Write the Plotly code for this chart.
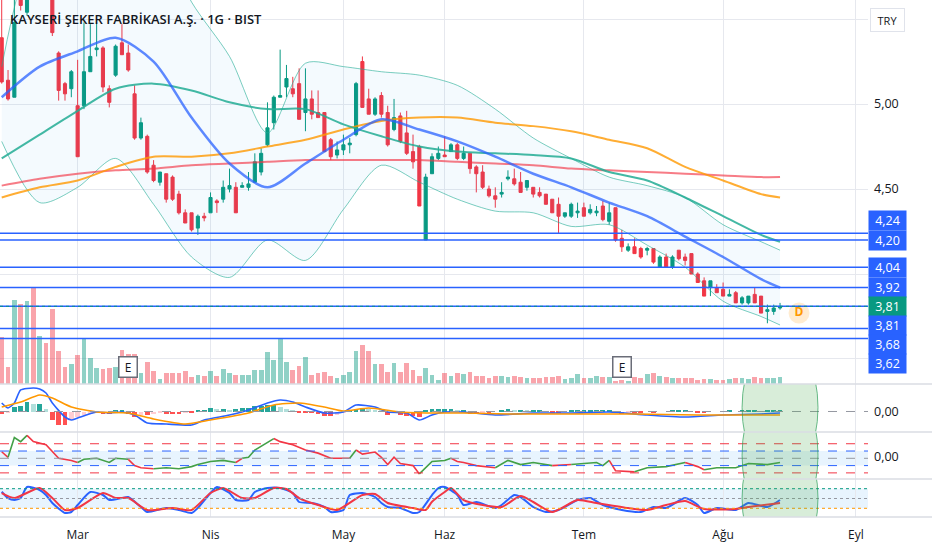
import plotly.graph_objects as go

# ---- price bars (daily, BIST: KAYSE) ----
opens = [5.39, 5.14, 5.04, 5.67, 5.54, 5.80, 5.70, 5.78, 5.70, 5.30,
         5.12, 5.09, 4.99, 4.99, 5.19, 5.32, 5.33, 5.09, 5.17, 5.36,
         5.30, 5.06, 4.80, 4.81, 4.64, 4.54, 4.59, 4.57, 4.47, 4.36,
         4.36, 4.27, 4.34, 4.36, 4.43, 4.44, 4.50, 4.51, 4.51, 4.51,
         4.54, 4.60, 4.76, 4.89, 5.04, 5.10, 5.09, 5.12, 4.95, 5.03,
         4.95, 4.95, 4.79, 4.70, 4.73, 4.76, 4.82, 5.25, 5.03, 4.94,
         5.05, 4.95, 4.85, 4.93, 4.83, 4.72, 4.75, 4.20, 4.59, 4.68,
         4.70, 4.72, 4.76, 4.68, 4.71, 4.63, 4.60, 4.50, 4.46, 4.47,
         4.56, 4.56, 4.54, 4.51, 4.51, 4.48, 4.47, 4.44, 4.41, 4.34,
         4.34, 4.36, 4.39, 4.36, 4.36, 4.40, 4.31, 4.39, 4.21, 4.14,
         4.16, 4.15, 4.14, 4.15, 4.04, 4.10, 4.04, 4.14, 4.10, 4.12,
         4.00, 3.96, 3.92, 3.92, 3.91, 3.87, 3.89, 3.83, 3.83, 3.88,
         3.87, 3.78, 3.78, 3.80]
highs = [5.64, 5.20, 5.64, 5.72, 5.70, 5.85, 5.82, 5.80, 5.72, 5.31,
         5.13, 5.20, 5.26, 5.48, 5.47, 5.48, 5.34, 5.11, 5.35, 5.47,
         5.35, 5.11, 4.92, 4.82, 4.67, 4.60, 4.59, 4.58, 4.49, 4.38,
         4.36, 4.35, 4.36, 4.48, 4.44, 4.55, 4.62, 4.54, 4.54, 4.60,
         4.71, 4.74, 5.01, 5.05, 5.32, 5.23, 5.16, 5.21, 5.21, 5.08,
         5.08, 4.95, 4.80, 4.78, 4.82, 4.80, 5.13, 5.28, 5.09, 5.04,
         5.07, 4.99, 5.03, 4.95, 4.96, 4.82, 4.76, 4.59, 4.71, 4.75,
         4.81, 4.77, 4.77, 4.75, 4.71, 4.64, 4.64, 4.52, 4.51, 4.54,
         4.61, 4.62, 4.60, 4.55, 4.51, 4.51, 4.47, 4.44, 4.45, 4.36,
         4.42, 4.42, 4.42, 4.41, 4.40, 4.43, 4.42, 4.39, 4.26, 4.18,
         4.21, 4.16, 4.16, 4.15, 4.11, 4.12, 4.11, 4.14, 4.12, 4.12,
         4.01, 3.98, 3.96, 3.94, 3.95, 3.91, 3.90, 3.87, 3.87, 3.92,
         3.87, 3.82, 3.82, 3.83]
lows = [5.12, 5.02, 5.04, 5.55, 5.52, 5.66, 5.68, 5.65, 5.40, 5.02,
        5.02, 5.04, 4.69, 4.97, 5.19, 5.28, 5.07, 4.98, 5.16, 5.29,
        5.19, 4.79, 4.79, 4.59, 4.54, 4.52, 4.42, 4.43, 4.35, 4.30,
        4.25, 4.23, 4.31, 4.36, 4.36, 4.42, 4.48, 4.36, 4.51, 4.49,
        4.54, 4.58, 4.75, 4.85, 5.04, 5.04, 5.04, 4.91, 4.84, 4.91,
        4.92, 4.72, 4.67, 4.68, 4.70, 4.71, 4.81, 4.98, 4.94, 4.93,
        4.92, 4.75, 4.84, 4.77, 4.70, 4.62, 4.40, 4.20, 4.59, 4.67,
        4.69, 4.72, 4.67, 4.67, 4.59, 4.48, 4.50, 4.45, 4.39, 4.45,
        4.55, 4.52, 4.48, 4.49, 4.45, 4.45, 4.41, 4.36, 4.24, 4.33,
        4.33, 4.33, 4.34, 4.35, 4.34, 4.31, 4.29, 4.19, 4.13, 4.13,
        4.12, 4.09, 4.11, 4.06, 4.04, 4.04, 4.03, 4.08, 4.05, 4.00,
        3.95, 3.87, 3.87, 3.89, 3.87, 3.87, 3.83, 3.82, 3.82, 3.83,
        3.77, 3.71, 3.76, 3.79]
closes = [5.13, 5.03, 5.48, 5.58, 5.67, 5.70, 5.78, 5.68, 5.42, 5.08,
          5.06, 5.19, 4.69, 5.19, 5.28, 5.33, 5.10, 5.01, 5.34, 5.29,
          5.20, 4.80, 4.89, 4.60, 4.55, 4.60, 4.44, 4.44, 4.36, 4.30,
          4.26, 4.34, 4.33, 4.45, 4.42, 4.51, 4.52, 4.36, 4.52, 4.53,
          4.66, 4.71, 4.86, 5.04, 5.05, 5.15, 5.06, 4.91, 5.03, 4.94,
          4.92, 4.72, 4.69, 4.73, 4.76, 4.77, 5.12, 4.98, 4.94, 5.03,
          4.94, 4.76, 4.92, 4.78, 4.71, 4.66, 4.40, 4.57, 4.69, 4.71,
          4.69, 4.76, 4.68, 4.71, 4.62, 4.59, 4.51, 4.46, 4.44, 4.48,
          4.57, 4.53, 4.48, 4.55, 4.47, 4.46, 4.41, 4.36, 4.34, 4.36,
          4.41, 4.37, 4.34, 4.38, 4.37, 4.32, 4.36, 4.20, 4.16, 4.16,
          4.12, 4.10, 4.15, 4.07, 4.10, 4.04, 4.10, 4.09, 4.08, 4.00,
          3.95, 3.87, 3.96, 3.89, 3.87, 3.88, 3.83, 3.86, 3.87, 3.83,
          3.77, 3.79, 3.80, 3.81]
# volume, thousand lots
volume = [467, 173, 843, 800, 833, 960, 483, 413, 750, 333,
          173, 197, 290, 450, 263, 160, 150, 163, 173, 343,
          300, 300, 107, 220, 133, 50, 107, 107, 107, 133,
          73, 93, 83, 133, 83, 150, 107, 93, 93, 93,
          140, 140, 323, 243, 450, 220, 140, 183, 273, 93,
          107, 120, 83, 60, 93, 117, 333, 393, 333, 197,
          197, 117, 210, 117, 210, 140, 83, 160, 93, 40,
          107, 83, 107, 100, 123, 83, 83, 60, 83, 83,
          73, 83, 73, 60, 60, 60, 73, 73, 83, 50,
          60, 97, 60, 60, 83, 67, 73, 33, 40, 33,
          73, 60, 97, 107, 83, 73, 60, 60, 60, 60,
          40, 50, 50, 40, 40, 50, 60, 60, 50, 73,
          60, 60, 60, 73]
bars = list(range(len(closes)))

# moving averages / bollinger bands, read every 6 bars
ma_x = [0, 6, 12, 18, 24, 30, 36, 42, 48, 54, 60, 66, 72, 78, 84, 90, 96, 102, 108, 114, 120, 123]
bb_mid = [5.04, 5.22, 5.31, 5.39, 5.25, 4.92, 4.65, 4.51, 4.65, 4.79, 4.91, 4.85, 4.78, 4.69, 4.59, 4.51, 4.42, 4.34, 4.22, 4.10, 3.97, 3.92]
bb_up = [5.22, 6.00, 6.10, 6.10, 6.05, 5.60, 5.28, 4.83, 5.24, 5.22, 5.19, 5.17, 5.11, 4.97, 4.80, 4.68, 4.57, 4.52, 4.45, 4.29, 4.19, 4.14]
bb_lo = [4.78, 4.42, 4.51, 4.68, 4.41, 4.10, 3.98, 4.20, 4.08, 4.38, 4.64, 4.54, 4.44, 4.37, 4.36, 4.28, 4.29, 4.17, 4.04, 3.84, 3.75, 3.70]
sma50 = [4.68, 4.82, 4.96, 5.09, 5.12, 5.08, 5.01, 4.97, 4.97, 4.88, 4.81, 4.75, 4.72, 4.71, 4.70, 4.68, 4.60, 4.55, 4.45, 4.34, 4.23, 4.19]
sma100 = [4.45, 4.51, 4.55, 4.63, 4.69, 4.69, 4.71, 4.75, 4.79, 4.85, 4.90, 4.92, 4.92, 4.89, 4.87, 4.84, 4.79, 4.74, 4.63, 4.55, 4.47, 4.45]
sma200 = [4.52, 4.56, 4.59, 4.61, 4.62, 4.64, 4.65, 4.66, 4.67, 4.67, 4.67, 4.67, 4.66, 4.65, 4.64, 4.62, 4.61, 4.60, 4.59, 4.58, 4.57, 4.57]

# horizontal levels drawn on the chart
levels = [4.24, 4.20, 4.04, 3.92, 3.81, 3.68, 3.62]

# MACD
macd_x = [0, 1, 2, 3, 5, 6, 7, 8, 10, 11, 12, 15, 17, 19, 21, 23, 26, 30, 32, 36, 39, 42, 44, 46, 48, 51,
          54, 56, 59, 61, 64, 66, 68, 70, 73, 78, 84, 90, 96, 102, 108, 114, 120, 123]
macd = [0.034, 0.014, 0.034, 0.086, 0.094, 0.090, 0.074, 0.034, -0.022, -0.034, -0.026, -0.002, -0.006,
        -0.002, -0.014, -0.046, -0.050, -0.054, -0.034, -0.014, 0.006, 0.034, 0.046, 0.038, 0.018, -0.006,
        -0.002, 0.026, 0.018, -0.002, -0.006, -0.034, -0.014, -0.002, -0.002, -0.014, -0.006, -0.006,
        -0.002, -0.014, -0.022, -0.014, -0.010, -0.006]
signal_x = [0, 3, 6, 8, 11, 15, 20, 24, 29, 33, 39, 43, 47, 51, 54, 58, 63, 68, 73, 80, 90, 100, 110, 123]
signal = [0.018, 0.038, 0.066, 0.054, 0.018, -0.002, -0.006, -0.030, -0.050, -0.034, -0.006, 0.026, 0.034,
          0.018, 0.002, 0.014, -0.002, -0.006, -0.006, -0.010, -0.010, -0.010, -0.014, -0.014]
hist = [-0.008, -0.004, 0.020, 0.024, 0.040, 0.032, 0.032, 0.012, -0.032, -0.052,
        -0.052, -0.032, -0.020, -0.012, -0.008, -0.004, -0.008, -0.008, 0.004, 0.004,
        -0.008, -0.020, -0.012, -0.012, -0.008, -0.004, -0.008, -0.008, -0.008, -0.004,
        -0.004, 0.004, 0.008, 0.016, 0.012, 0.012, 0.008, 0.012, 0.016, 0.016,
        0.024, 0.024, 0.028, 0.028, 0.020, 0.012, 0.008, -0.004, -0.004, -0.004,
        -0.008, -0.016, -0.016, -0.012, -0.004, 0.004, 0.012, 0.016, 0.012, 0.008,
        0.004, -0.012, -0.004, -0.012, -0.016, -0.016, -0.020, 0.004, 0.012, 0.012,
        0.012, 0.012, 0.008, 0.008, -0.008, -0.008, -0.004, -0.004, 0.0, 0.004,
        0.012, 0.008, 0.008, 0.004, 0.004, 0.004, 0.0, -0.004, -0.004, 0.0,
        0.004, 0.008, 0.008, 0.008, 0.008, 0.008, 0.008, -0.004, -0.008, -0.004,
        -0.004, -0.004, 0.0, -0.004, 0.0, 0.0, 0.004, 0.004, 0.004, 0.0,
        -0.004, -0.004, 0.0, 0.0, 0.0, 0.004, 0.0, 0.004, 0.004, 0.004,
        0.0, 0.004, 0.004, 0.004]

# RSI (g = green segment, r = red segment)
rsi_x = [0, 1, 2, 3, 4, 5, 7, 8, 9, 11, 12, 13, 15, 17, 18, 20, 21, 22, 24, 26, 28, 30, 31, 33, 35, 37, 38,
         39, 40, 42, 43, 44, 46, 48, 50, 52, 55, 56, 57, 59, 60, 61, 62, 63, 65, 66, 68, 70, 71, 72, 73, 75,
         78, 80, 82, 84, 87, 90, 94, 95, 96, 97, 100, 102, 105, 108, 110, 111, 113, 116, 118, 121, 123]
rsi = [59, 51.4, 78.6, 72.9, 81.4, 72.9, 68.6, 58.6, 50, 47.1, 44.3, 48.6, 50, 44.3, 50, 48.6, 40, 37.1,
       35.7, 37.1, 35.7, 38.6, 41.4, 45.7, 47.1, 44.3, 50, 51.4, 61.4, 71.4, 77.1, 72.9, 68.6, 61.4, 57.1,
       50, 50, 61.4, 55.7, 58.6, 51.4, 41.4, 51.4, 42.9, 40, 28.6, 45.7, 47.1, 50, 45.7, 44.3, 40, 37.1,
       47.1, 41.4, 44.3, 40, 41.4, 44.3, 40, 47.1, 32.9, 31.4, 37.1, 38.6, 44.3, 38.6, 34.3, 37.1, 37.1,
       42.9, 41.4, 44.3]
rsi_col = list("rgggrrrrrr" "gggggrrrgg" "gggggrgggg" "rrrrrrgrrr" "rrrrrgggrr" "rrggggrggg" "rrgggrrggg"
               "ggg")

# Stochastic
stoch_k_x = [0, 1, 2, 3, 4, 6, 7, 8, 10, 11, 12, 14, 16, 17, 19, 20, 22, 23, 26, 28, 30, 31, 33, 34, 36, 37,
             39, 40, 42, 44, 46, 47, 49, 51, 52, 54, 55, 57, 59, 60, 61, 63, 65, 66, 68, 69, 70, 72, 73, 75,
             78, 79, 81, 82, 84, 86, 88, 91, 93, 95, 98, 101, 103, 105, 108, 110, 111, 113, 116, 118, 121, 123]
stoch_k = [70.8, 51.5, 45.4, 51.5, 85.2, 76.0, 60.7, 36.2, 5.6, 8.7, 30.1, 69.9, 60.7, 45.4, 51.5, 54.6,
           24.0, 8.7, 20.9, 14.8, 5.6, 20.9, 66.8, 85.2, 66.8, 45.4, 45.4, 69.9, 82.1, 82.1, 66.8, 39.3,
           36.2, 24.0, 8.7, 14.8, 60.7, 66.8, 54.6, 36.2, 24.0, 20.9, 5.6, 8.7, 60.7, 82.1, 85.2, 60.7,
           30.1, 39.3, 20.9, 30.1, 60.7, 54.6, 24.0, 8.7, 14.8, 45.4, 51.5, 30.1, 14.8, 8.7, 24.0, 20.9,
           51.5, 30.1, 5.6, 20.9, 14.8, 36.2, 24.0, 45.4]
stoch_d_x = [0, 2, 6, 8, 10, 12, 16, 18, 20, 23, 27, 30, 33, 35, 38, 40, 43, 45, 47, 50, 53, 57, 59, 61, 65,
             67, 68, 70, 71, 73, 76, 79, 82, 84, 87, 91, 94, 99, 102, 105, 108, 111, 116, 118, 123]
stoch_d = [66.8, 51.5, 82.1, 51.5, 14.8, 20.9, 66.8, 51.5, 51.5, 14.8, 20.9, 14.8, 66.8, 82.1, 51.5, 51.5,
           82.1, 79.1, 51.5, 30.1, 14.8, 60.7, 63.8, 36.2, 20.9, 14.8, 40, 70, 82.1, 45, 30.1, 24.0, 57.6,
           39.3, 8.7, 45.4, 36.2, 20.9, 14.8, 30.1, 42.3, 17.9, 17.9, 24.0, 36.2]

month_bars = [12, 33, 54, 70, 92, 114, 135]
month_labels = ["Mar", "Nis", "May", "Haz", "Tem", "Ağu", "Eyl"]
earnings_bars = [20, 98]
dividend_bar = [126]
dividend_price = [3.77]

GREEN = "#089981"
RED = "#f23645"
BLUE = "#2962ff"
GRID = "#e6e8ee"
TXT = "#131722"

# pane layout (paper fractions of the 517px plot height)
D_MAIN = [0.2573, 1.0]
D_MACD = [0.1644, 0.2573]
D_RSI = [0.0735, 0.1644]
D_STO = [0.0, 0.0735]

SMOOTH = dict(shape="spline", smoothing=0.8)

fig = go.Figure()

# volume (overlay on price pane)
up = [c >= o for o, c in zip(opens, closes)]
fig.add_trace(go.Bar(
    x=bars, y=volume, yaxis="y5",
    marker_color=["rgba(8,153,129,0.45)" if u else "rgba(242,54,69,0.45)" for u in up],
    marker_line_width=0, width=0.75, showlegend=False, hoverinfo="skip"))

# bollinger fill + bands
fig.add_trace(go.Scatter(x=ma_x, y=bb_up, mode="lines", line=dict(color="rgba(34,171,148,0.6)", width=1, **SMOOTH),
                         showlegend=False, hoverinfo="skip"))
fig.add_trace(go.Scatter(x=ma_x, y=bb_lo, mode="lines", line=dict(color="rgba(34,171,148,0.6)", width=1, **SMOOTH),
                         fill="tonexty", fillcolor="rgba(33,150,243,0.05)", showlegend=False, hoverinfo="skip"))
fig.add_trace(go.Scatter(x=ma_x, y=sma200, mode="lines", line=dict(color="rgba(242,54,69,0.65)", width=2, **SMOOTH),
                         showlegend=False, hoverinfo="skip"))
fig.add_trace(go.Scatter(x=ma_x, y=sma100, mode="lines", line=dict(color="rgba(255,152,0,0.8)", width=2, **SMOOTH),
                         showlegend=False, hoverinfo="skip"))
fig.add_trace(go.Scatter(x=ma_x, y=sma50, mode="lines", line=dict(color="rgba(34,171,148,0.85)", width=2, **SMOOTH),
                         showlegend=False, hoverinfo="skip"))
fig.add_trace(go.Scatter(x=ma_x, y=bb_mid, mode="lines", line=dict(color="rgba(41,98,255,0.75)", width=2.5, **SMOOTH),
                         showlegend=False, hoverinfo="skip"))

# level lines
for lv in levels:
    fig.add_shape(type="line", xref="x domain", yref="y", x0=0, x1=1, y0=lv, y1=lv,
                  line=dict(color=BLUE, width=1.5), layer="above")
fig.add_shape(type="line", xref="x domain", yref="y", x0=0, x1=1, y0=closes[-1], y1=closes[-1],
              line=dict(color=GREEN, width=1, dash="dot"), layer="above")

fig.add_trace(go.Candlestick(
    x=bars, open=opens, high=highs, low=lows, close=closes,
    increasing=dict(line=dict(color=GREEN, width=1), fillcolor=GREEN),
    decreasing=dict(line=dict(color=RED, width=1), fillcolor=RED),
    whiskerwidth=0, showlegend=False, hoverinfo="skip"))

# dividend marker
fig.add_trace(go.Scatter(
    x=dividend_bar, y=dividend_price, mode="markers+text", text=["<b>D</b>"],
    marker=dict(size=21, color="rgba(255,152,0,0.18)"),
    textfont=dict(color="#ff9800", size=12, family="Open Sans"), textposition="middle center",
    showlegend=False, hoverinfo="skip", cliponaxis=False))

# MACD pane
fig.add_trace(go.Bar(
    x=bars, y=hist, yaxis="y2", width=0.75, marker_line_width=0,
    marker_color=[("#26a69a" if (k == 0 or h >= hist[k - 1]) else "#b2dfdb") if h >= 0
                  else ("#ff5252" if (k == 0 or h <= hist[k - 1]) else "#ffcdd2")
                  for k, h in enumerate(hist)],
    showlegend=False, hoverinfo="skip"))
fig.add_shape(type="line", xref="x domain", yref="y2", x0=0, x1=1, y0=0, y1=0,
              line=dict(color="#9598a1", width=1, dash="dash"))
fig.add_trace(go.Scatter(x=macd_x, y=macd, yaxis="y2", mode="lines",
                         line=dict(color=BLUE, width=1.6, shape="spline", smoothing=0.6),
                         showlegend=False, hoverinfo="skip"))
fig.add_trace(go.Scatter(x=signal_x, y=signal, yaxis="y2", mode="lines",
                         line=dict(color="#ff9800", width=1.6, shape="spline", smoothing=0.6),
                         showlegend=False, hoverinfo="skip"))

# RSI pane
fig.add_shape(type="rect", xref="x domain", yref="y3", x0=0, x1=1, y0=40, y1=60,
              fillcolor="rgba(33,150,243,0.1)", line_width=0, layer="below")
for lv, col in [(70, RED), (60, BLUE), (50, "#9598a1"), (40, BLUE), (30, RED)]:
    fig.add_shape(type="line", xref="x domain", yref="y3", x0=0, x1=1, y0=lv, y1=lv,
                  line=dict(color=col, width=1, dash="dash"))
start = 0
for k in range(1, len(rsi_x)):
    if k == len(rsi_x) - 1 or rsi_col[k] != rsi_col[start]:
        fig.add_trace(go.Scatter(
            x=rsi_x[start:k + 1], y=rsi[start:k + 1], yaxis="y3", mode="lines",
            line=dict(color="#43a047" if rsi_col[start] == "g" else RED, width=1.6),
            showlegend=False, hoverinfo="skip"))
        start = k

# Stochastic pane
fig.add_shape(type="rect", xref="x domain", yref="y4", x0=0, x1=1, y0=20, y1=80,
              fillcolor="rgba(33,150,243,0.1)", line_width=0, layer="below")
for lv, col in [(80, GREEN), (50, "#9598a1"), (20, "#ff9800")]:
    fig.add_shape(type="line", xref="x domain", yref="y4", x0=0, x1=1, y0=lv, y1=lv,
                  line=dict(color=col, width=1, dash="dot"))
fig.add_trace(go.Scatter(x=stoch_k_x, y=stoch_k, yaxis="y4", mode="lines",
                         line=dict(color=BLUE, width=2, shape="spline", smoothing=0.6),
                         showlegend=False, hoverinfo="skip"))
fig.add_trace(go.Scatter(x=stoch_d_x, y=stoch_d, yaxis="y4", mode="lines",
                         line=dict(color=RED, width=2, shape="spline", smoothing=0.6),
                         showlegend=False, hoverinfo="skip"))

# highlighted circles on the indicator panes
for yref, y0, y1 in [("y2", -0.272, 0.304), ("y3", -48.6, 157.0), ("y4", -168.0, 271.0)]:
    fig.add_shape(type="circle", xref="x", yref=yref, x0=117, x1=129, y0=y0, y1=y1,
                  fillcolor="rgba(76,175,80,0.22)", line=dict(color="rgba(46,160,90,0.7)", width=1),
                  layer="above")

# pane separators
for yy in [D_MAIN[0], D_MACD[0], D_RSI[0], 0.0]:
    fig.add_shape(type="line", xref="paper", yref="paper", x0=0, x1=932 / 868, y0=yy, y1=yy,
                  line=dict(color="#dadde3", width=1.5))

annotations = [
    dict(text="KAYSERİ ŞEKER FABRİKASI A.Ş. · 1G · BIST", xref="paper", yref="paper", x=8 / 868,
         y=(517 - 19) / 517, xanchor="left", yanchor="middle", showarrow=False,
         font=dict(size=13, color=TXT, family="Open Sans", weight=600)),
    dict(text="TRY", xref="paper", yref="paper", x=887.5 / 868, y=(517 - 20) / 517, showarrow=False,
         xanchor="center", yanchor="middle",
         width=33, height=22, bgcolor="white", bordercolor="#e0e3eb", borderwidth=1, borderpad=0,
         font=dict(size=11, color=TXT, family="Open Sans")),
]
for b in earnings_bars:
    annotations.append(dict(text="E", xref="x", yref="paper", x=b, y=(517 - 367) / 517, showarrow=False,
                            xanchor="center", yanchor="middle",
                            width=15, height=17, bgcolor="white", bordercolor="#6a6d78", borderwidth=1.5,
                            borderpad=1, font=dict(size=12, color=TXT, family="Open Sans")))
# price badges: (price, label, colour, vertical shift in px to avoid overlap)
badges = [(4.24, "4,24", BLUE, 13), (4.20, "4,20", BLUE, -0.5), (4.04, "4,04", BLUE, 0),
          (3.92, "3,92", BLUE, 0.5), (3.81, "3,81", GREEN, 0), (3.81, "3,81", BLUE, -19.3),
          (3.68, "3,68", BLUE, -16), (3.62, "3,62", BLUE, -25)]
for price, lab, col, sh in badges:
    annotations.append(dict(text=lab, xref="paper", yref="y", x=887.5 / 868, y=price, yshift=sh,
                            xanchor="center", yanchor="middle",
                            showarrow=False, width=37, height=19.3, bgcolor=col, borderpad=0,
                            font=dict(size=12.5, color="white", family="Open Sans")))

axis_common = dict(showline=False, zeroline=False, ticks="", fixedrange=True)
ytick_font = dict(size=12.5, color=TXT)
fig.update_layout(
    width=932, height=550,
    margin=dict(l=0, r=64, t=0, b=33),
    paper_bgcolor="white", plot_bgcolor="white",
    separators=",.",
    font=dict(family="Open Sans", size=12, color=TXT),
    showlegend=False, bargap=0,
    annotations=annotations,
    xaxis=dict(range=[-0.27, 136.9], tickvals=month_bars, ticktext=month_labels, showgrid=True,
               gridcolor=GRID, anchor="y4", rangeslider=dict(visible=False), ticklabelstandoff=9,
               tickfont=dict(size=12, color=TXT), **axis_common),
    yaxis=dict(domain=D_MAIN, range=[3.353, 5.612], side="right", anchor="x",
               tickvals=[3.5, 4.0, 4.5, 5.0, 5.5], ticktext=["", "", "4,50", "5,00", ""],
               showgrid=True, gridcolor=GRID, tickfont=ytick_font, ticklabelstandoff=5, **axis_common),
    yaxis5=dict(overlaying="y", range=[0, 3840], visible=False, showgrid=False),
    yaxis2=dict(domain=D_MACD, range=[-0.082, 0.11], side="right", anchor="x", tickvals=[0],
                ticktext=["0,00"], showgrid=False, tickfont=ytick_font, ticklabelstandoff=5, **axis_common),
    yaxis3=dict(domain=D_RSI, range=[21.6, 86.1], side="right", anchor="x", tickvals=[53],
                ticktext=["0,00"], showgrid=False, tickfont=ytick_font, ticklabelstandoff=5, **axis_common),
    yaxis4=dict(domain=D_STO, range=[-6.6, 109.7], side="right", anchor="x", showticklabels=False,
                showgrid=False, **axis_common),
)

fig.write_html("out.html", config={"displayModeBar": False},
               post_script="document.body.style.margin='0';")
